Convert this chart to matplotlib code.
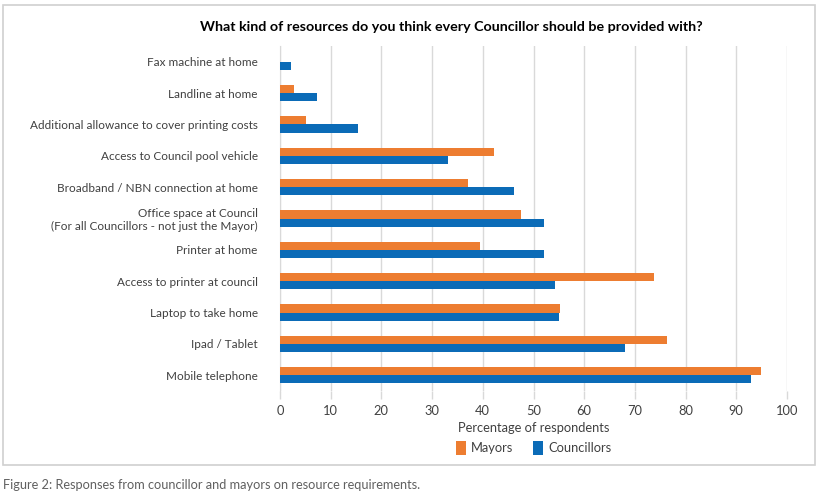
import matplotlib.pyplot as plt
import numpy as np
from matplotlib.patches import Rectangle

categories = [
    "Fax machine at home",
    "Landline at home",
    "Additional allowance to cover printing costs",
    "Access to Council pool vehicle",
    "Broadband / NBN connection at home",
    "Office space at Council\n(For all Councillors - not just the Mayor)",
    "Printer at home",
    "Access to printer at council",
    "Laptop to take home",
    "Ipad / Tablet",
    "Mobile telephone",
]
mayors = [0, 2.8, 5.2, 42.3, 37.0, 47.6, 39.5, 73.8, 55.3, 76.3, 94.8]
councillors = [2.2, 7.2, 15.3, 33.2, 46.2, 52.0, 52.0, 54.2, 55.0, 68.0, 92.9]

ORANGE = "#ED7D31"
BLUE = "#0B6BB7"
TEXT = "#404040"

plt.rcParams["font.family"] = ["Lato", "DejaVu Sans"]

fig = plt.figure(figsize=(8.18, 4.96), dpi=100)
ax = fig.add_axes([280 / 818, 1 - 391 / 496, 507 / 818, 345 / 496])

y = np.arange(len(categories))
h = 0.26
ax.barh(y - h / 2, mayors, height=h, color=ORANGE, label="Mayors", zorder=3)
ax.barh(y + h / 2, councillors, height=h, color=BLUE, label="Councillors", zorder=3)

ax.set_xlim(0, 100)
ax.set_ylim(len(categories) - 0.5, -0.5)
ax.set_xticks(np.arange(0, 101, 10))
ax.set_yticks(y)
ax.set_yticklabels(categories, ha="right")
ax.tick_params(axis="y", length=0, pad=16, labelsize=8.5, labelcolor=TEXT)
ax.tick_params(axis="x", length=6, color="#d9d9d9", width=1, pad=4, labelsize=9.3, labelcolor=TEXT)
ax.grid(axis="x", color="#d9d9d9", linewidth=1, zorder=0)
for side in ["top", "right", "bottom"]:
    ax.spines[side].set_visible(False)
ax.spines["left"].set_color("#d9d9d9")
ax.set_xlabel("Percentage of respondents", fontsize=9.3, color=TEXT, labelpad=4)

ax.legend(loc="center", bbox_to_anchor=(0.5, (391 - 448) / 345), ncol=2, frameon=False,
          fontsize=9.3, labelcolor=TEXT, handlelength=0.8, handleheight=1.2,
          handletextpad=0.4, columnspacing=1.5, borderpad=0)

fig.text(451 / 818, 1 - 27 / 496, "What kind of resources do you think every Councillor should be provided with?",
         ha="center", va="center", fontsize=10.3, fontweight="bold", color="black")
fig.text(3 / 818, 1 - 485 / 496, "Figure 2: Responses from councillor and mayors on resource requirements.",
         ha="left", va="center", fontsize=9.2, color="#606060")

fig.patches.append(Rectangle((3 / 818, 1 - 465 / 496), 812 / 818, 460 / 496,
                             transform=fig.transFigure, fill=False, edgecolor="#d0d0d0", linewidth=1.2))

fig.savefig("out.png", dpi=100)
